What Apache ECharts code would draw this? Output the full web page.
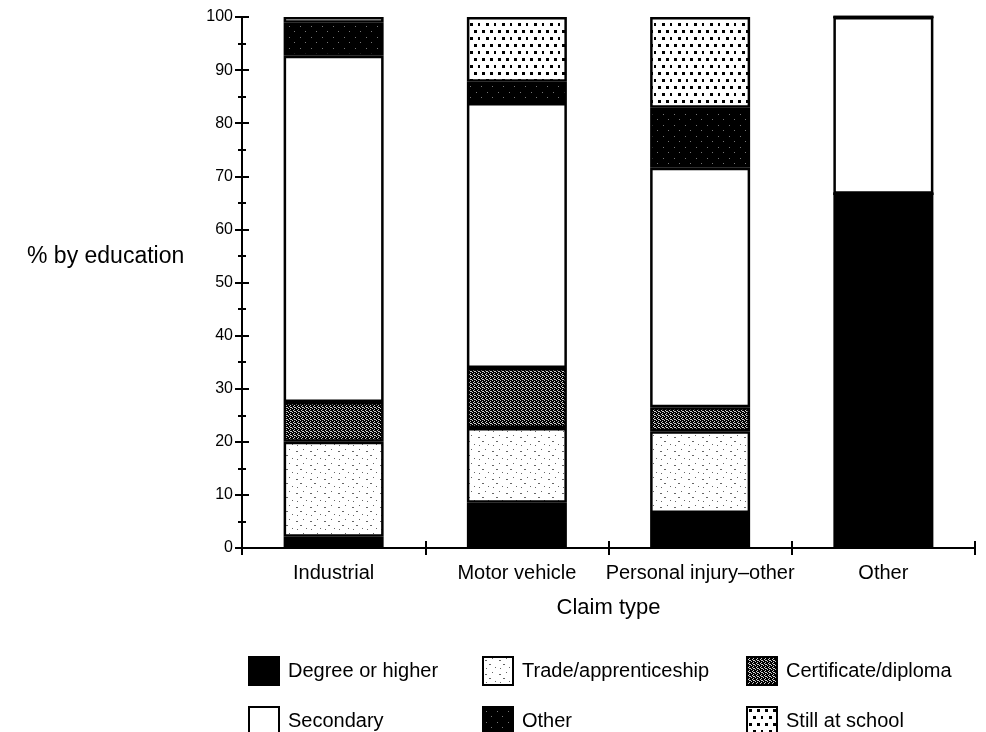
<!DOCTYPE html>
<html>
<head>
<meta charset="utf-8">
<script src="https://cdn.jsdelivr.net/npm/echarts@6/dist/echarts.min.js"></script>
<style>
  html, body { margin: 0; padding: 0; background: #fff; }
  #chart { width: 986px; height: 732px; }
</style>
</head>
<body>
<div id="chart"></div>
<script>
// Claim types and share of claimants by education level (%)
const categories = ['Industrial', 'Motor vehicle', 'Personal injury–other', 'Other'];
const degree      = [2.1, 8.5, 6.6, 66.7];
const trade       = [17.9, 14.1, 15.4, 0];
const certificate = [7.5, 11.3, 4.5, 0];
const secondary   = [65.2, 49.9, 45.1, 33.3];
const otherEd     = [6.2, 4.0, 11.3, 0];
const stillSchool = [1.1, 12.2, 17.1, 0];
const yTicks = [0, 10, 20, 30, 40, 50, 60, 70, 80, 90, 100];

const FONT = '"Liberation Sans", Arial, Helvetica, sans-serif';

// Texture tiles used as fills
function tile(w, h, bg, draw) {
  const c = document.createElement('canvas');
  c.width = w; c.height = h;
  const ctx = c.getContext('2d');
  ctx.fillStyle = bg;
  ctx.fillRect(0, 0, w, h);
  draw(ctx);
  return { image: c, repeat: 'repeat' };
}

const fillTrade = tile(14, 14, '#fff', ctx => {
  ctx.fillStyle = '#666';
  [[2, 3], [3, 3], [9, 1], [6, 7], [7, 7], [12, 10], [3, 11]].forEach(p => ctx.fillRect(p[0], p[1], 1, 1));
});
const fillCert = tile(4, 4, '#000', ctx => {
  ctx.fillStyle = '#cfcfcf';
  [[0, 0], [2, 1], [1, 2], [3, 3], [2, 3]].forEach(p => ctx.fillRect(p[0], p[1], 1, 1));
});
const fillOther = tile(11, 11, '#000', ctx => {
  ctx.fillStyle = '#777';
  [[3, 4], [8, 9]].forEach(p => ctx.fillRect(p[0], p[1], 1, 1));
});
const fillSchool = tile(16, 14, '#fff', ctx => {
  ctx.fillStyle = '#000';
  [[2, 2], [10, 2], [6, 9], [14, 9]].forEach(p => ctx.fillRect(p[0], p[1], 3, 3));
});

const seriesDefs = [
  { name: 'Degree or higher', data: degree, color: '#000' },
  { name: 'Trade/apprenticeship', data: trade, color: fillTrade },
  { name: 'Certificate/diploma', data: certificate, color: fillCert },
  { name: 'Secondary', data: secondary, color: '#fff' },
  { name: 'Other', data: otherEd, color: fillOther },
  { name: 'Still at school', data: stillSchool, color: fillSchool }
];

// Legend arranged in a 3-column grid
const legendPos = [
  { left: 243, top: 651 }, { left: 477, top: 651 }, { left: 741, top: 651 },
  { left: 243, top: 701 }, { left: 477, top: 701 }, { left: 741, top: 701 }
];

const chart = echarts.init(document.getElementById('chart'), null, { renderer: 'canvas' });

const axisLine = { show: true, lineStyle: { color: '#000', width: 2 } };

chart.setOption({
  animation: false,
  backgroundColor: '#fff',
  grid: { left: 242, right: 11, top: 17, bottom: 184, containLabel: false },
  legend: seriesDefs.map((s, i) => ({
    data: [{ name: s.name, icon: 'rect' }],
    left: legendPos[i].left,
    top: legendPos[i].top,
    itemWidth: 30,
    itemHeight: 28,
    selectedMode: false,
    itemStyle: { borderColor: '#000', borderWidth: 2 },
    textStyle: { fontFamily: FONT, fontSize: 20, color: '#000', padding: [0, 0, 0, 4] }
  })),
  xAxis: [
    {
      type: 'category',
      data: categories,
      boundaryGap: true,
      axisLine: axisLine,
      axisTick: { show: true, inside: false, length: 7, lineStyle: { color: '#000', width: 2 } },
      axisLabel: { fontFamily: FONT, fontSize: 20, color: '#000', margin: 15, interval: 0 },
      name: 'Claim type',
      nameLocation: 'middle',
      nameGap: 49,
      nameTextStyle: { fontFamily: FONT, fontSize: 22, color: '#000' }
    },
    {
      type: 'category',
      data: categories,
      position: 'bottom',
      boundaryGap: true,
      axisLine: axisLine,
      axisTick: { show: true, inside: true, length: 7, lineStyle: { color: '#000', width: 2 } },
      axisLabel: { show: false }
    }
  ],
  yAxis: [
    {
      type: 'value',
      position: 'left',
      min: yTicks[0],
      max: yTicks[yTicks.length - 1],
      interval: 10,
      axisLine: axisLine,
      axisTick: { show: true, inside: false, length: 7, lineStyle: { color: '#000', width: 2 } },
      minorTick: { show: true, splitNumber: 2, length: 4, lineStyle: { color: '#000', width: 2 } },
      splitLine: { show: false },
      axisLabel: { fontFamily: FONT, fontSize: 16, color: '#000', margin: 9 }
    },
    {
      type: 'value',
      position: 'left',
      min: yTicks[0],
      max: yTicks[yTicks.length - 1],
      interval: 10,
      axisLine: axisLine,
      axisTick: { show: true, inside: true, length: 7, lineStyle: { color: '#000', width: 2 } },
      minorTick: { show: true, splitNumber: 2, length: 4, lineStyle: { color: '#000', width: 2 } },
      splitLine: { show: false },
      axisLabel: { show: false }
    }
  ],
  graphic: [
    {
      type: 'text',
      left: 27,
      top: 245,
      style: { text: '% by education', font: '23px ' + FONT, fill: '#000' }
    }
  ],
  series: seriesDefs.map(s => ({
    name: s.name,
    type: 'bar',
    stack: 'education',
    xAxisIndex: 0,
    yAxisIndex: 0,
    barWidth: 100,
    data: s.data,
    itemStyle: { color: s.color, borderColor: '#000', borderWidth: 2.5 },
    emphasis: { disabled: true }
  }))
});
</script>
</body>
</html>
